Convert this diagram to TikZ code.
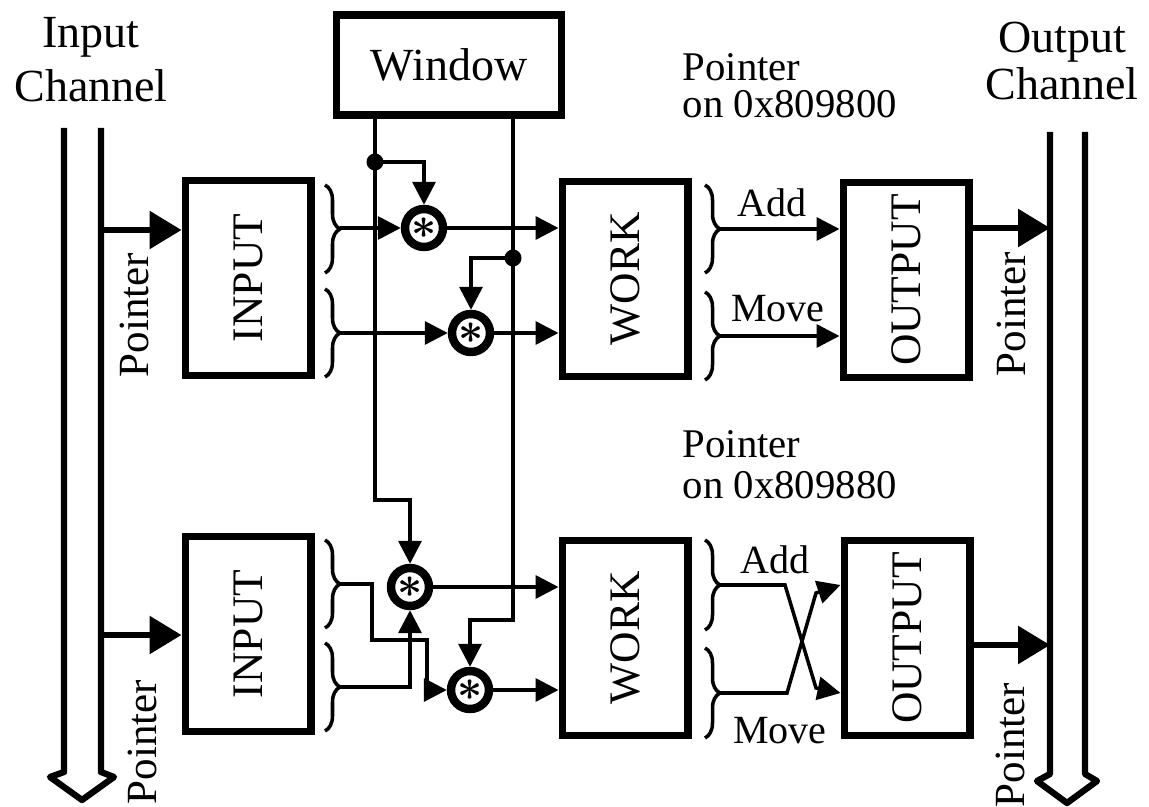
\documentclass[tikz,border=0pt]{standalone}
\usepackage{amsmath}
\usepackage{graphicx}
\usepackage{fontspec}
\setmainfont{Liberation Serif}
\usetikzlibrary{arrows.meta,decorations.pathreplacing}

\begin{document}
\begin{tikzpicture}[x=0.02cm, y=-0.02cm, line width=2pt,
	every node/.style={font=\fontsize{22.8}{22.5}\selectfont},
	>={Triangle[length=0.46cm,width=0.46cm]},
	blk/.style={draw, line width=4pt, minimum width=2.52cm, minimum height=3.92cm, inner sep=0pt, font=\fontsize{24.8}{28}\selectfont},
	mult/.style={circle, draw, line width=4.8pt, minimum size=0.76cm, inner sep=0pt, font=\fontsize{23}{23}\selectfont},
	brc/.style={decorate, decoration={brace, amplitude=0.3cm}},
	fat/.style={line width=3.4pt, -{Triangle[length=0.64cm,width=0.74cm]}},
	chan/.style={line width=3.6pt, line join=round},
	rot/.style={rotate=90, font=\fontsize{24.5}{28}\selectfont}]
	\useasboundingbox (0,0) rectangle (1149,807);
	% channels
	\draw[chan] (64,128) -- (64,772) -- (50,777) -- (82,800) -- (114,777) -- (101,772) -- (101,128);
	\draw[chan] (1050,132) -- (1050,774) -- (1037,781) -- (1067,803) -- (1097,781) -- (1085,774) -- (1085,132);
	\node[align=center, anchor=base, font=\fontsize{26.2}{31.3}\selectfont] (inch) at (91,102) {Input\\Channel};
	\node[align=center, anchor=base, font=\fontsize{26.2}{27}\selectfont] (outch) at (1062,100) {Output\\Channel};
	\node[rot] (ptr1) at (134,315) {Pointer};
	\node[rot] (ptr2) at (142,742) {Pointer};
	\node[rot] (ptr3) at (1011,314) {Pointer};
	\node[rot] (ptr4) at (1010,745) {Pointer};
	% blocks
	\node[draw, line width=4pt, minimum width=4.52cm, minimum height=2cm, font=\fontsize{26.2}{30}\selectfont] (win) at (449,65) {Window};
	\node[blk] (in1) at (248,278) {\rotatebox{90}{INPUT}};
	\node[blk] (in2) at (248,634) {\rotatebox{90}{INPUT}};
	\node[blk] (wk1) at (625,279) {\rotatebox{90}{WORK}};
	\node[blk] (wk2) at (625,638) {\rotatebox{90}{WORK}};
	\node[blk] (out1) at (906,280) {\rotatebox{90}{OUTPUT}};
	\node[blk] (out2) at (907,638) {\rotatebox{90}{OUTPUT}};
	\node[mult] (m1) at (424,228) {$\boldsymbol{\ast}$};
	\node[mult] (m2) at (471,333) {$\boldsymbol{\ast}$};
	\node[mult] (m3) at (410,587) {$\boldsymbol{\ast}$};
	\node[mult] (m4) at (470,690) {$\boldsymbol{\ast}$};
	\node[align=left, anchor=base west, inner xsep=0pt, font=\fontsize{23.2}{21.6}\selectfont] (lbl1) at (681,118) {Pointer\\on 0x809800};
	\node[align=left, anchor=base west, inner xsep=0pt, font=\fontsize{23.2}{23.3}\selectfont] (lbl2) at (681,498) {Pointer\\on 0x809880};
	% pointer arrows
	\coordinate (p1) at (101,230);
	\coordinate (p2) at (101,635);
	\coordinate (q1) at (1050,228);
	\coordinate (q2) at (1050,645);
	\draw[fat] (p1) -- (in1.west |- p1);
	\draw[fat] (p2) -- (in2.west |- p2);
	\draw[fat] (out1.east |- q1) -- (q1);
	\draw[fat] (out2.east |- q2) -- (q2);
	% window taps
	\coordinate (d1) at (375,162);
	\coordinate (d2) at (513,258);
	\coordinate (j1) at (375,500);
	\coordinate (j2) at (513,620);
	\draw[->] (win.south -| j1) -- (j1) -| (m3);
	\draw[->] (win.south -| j2) -- (j2) -| (m4);
	\fill (d1) circle (0.17cm);
	\fill (d2) circle (0.17cm);
	\draw[->] (d1) -| (m1);
	\draw[->] (d2) -| (m2);
	% input braces
	\draw[brc] (325,185) -- (325,273);
	\draw[brc] (325,289) -- (325,377);
	\draw[brc] (325,540) -- (325,628);
	\draw[brc] (325,643) -- (325,731);
	\coordinate (b1) at (340,228);
	\coordinate (b2) at (340,333);
	\coordinate (b3) at (340,584);
	\coordinate (b4) at (340,687);
	\draw[->] (b1) -- (m1);
	\draw[->] (b2) -- (m2);
	\draw[->] (b3) -- ++(32,0) -- ++(0,56) -- ++(55,0) |- (m4);
	\draw[->] (b4) -| (m3);
	\draw[->] (m1) -- (m1 -| wk1.west);
	\draw[->] (m2) -- (m2 -| wk1.west);
	\draw[->] (m3) -- (m3 -| wk2.west);
	\draw[->] (m4) -- (m4 -| wk2.west);
	% work braces
	\draw[brc] (705,185) -- (705,273);
	\draw[brc] (705,292) -- (705,380);
	\draw[brc] (705,540) -- (705,630);
	\draw[brc] (705,648) -- (705,738);
	\coordinate (c1) at (720,229);
	\coordinate (c2) at (720,336);
	\coordinate (c3) at (720,585);
	\coordinate (c4) at (720,693);
	\draw[->] (c1) -- (c1 -| out1.west);
	\draw[->] (c2) -- (c2 -| out1.west);
	\draw[->] (c3) -- ++(65,0) -- ++(31,103) -- (out2.west |- c4);
	\draw[->] (c4) -- ++(67,0) -- ++(29,-100) -- (out2.west |- c3);
	\node[anchor=base] (add1) at (772,217) {Add};
	\node[anchor=base] (mov1) at (778,322) {Move};
	\node[anchor=base] (add2) at (775,573) {Add};
	\node[anchor=base] (mov2) at (780,743) {Move};
\end{tikzpicture}
\end{document}
